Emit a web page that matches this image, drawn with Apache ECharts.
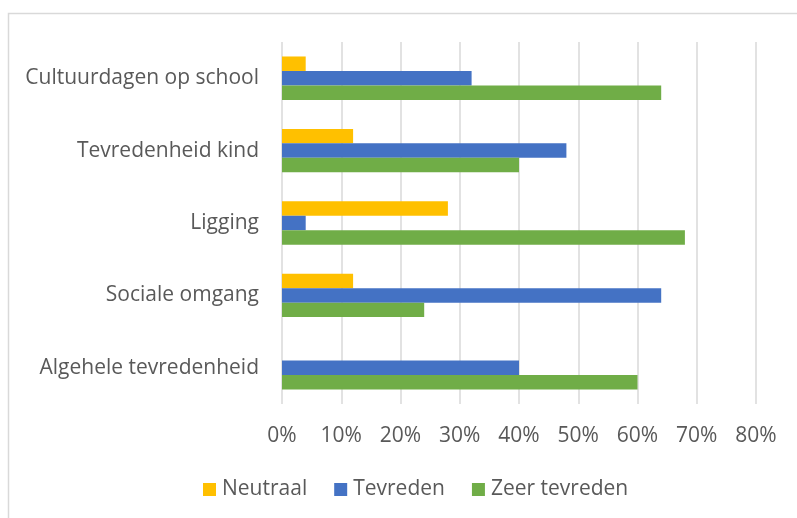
<!DOCTYPE html>
<html>
<head>
<meta charset="utf-8">
<script src="https://cdn.jsdelivr.net/npm/echarts@6/dist/echarts.min.js"></script>
<style>
  html, body { margin: 0; padding: 0; background: #fff; }
  #chart { width: 797px; height: 518px; }
</style>
</head>
<body>
<div id="chart"></div>
<script>
const categories = ['Cultuurdagen op school', 'Tevredenheid kind', 'Ligging', 'Sociale omgang', 'Algehele tevredenheid'];
const neutraal = [4, 12, 28, 12, 0];
const tevreden = [32, 48, 4, 64, 40];
const zeerTevreden = [64, 40, 68, 24, 60];

const chart = echarts.init(document.getElementById('chart'));
const textColor = '#595959';
const font = 'Open Sans';
const fontSize = 21;

const barSeries = (name, data, color) => ({
  name: name,
  type: 'bar',
  data: data,
  barGap: '0%',
  barCategoryGap: '40%',
  itemStyle: { color: color },
  emphasis: { disabled: true }
});

chart.setOption({
  animation: false,
  graphic: [{
    type: 'rect',
    shape: { x: 8.5, y: 13.5, width: 820, height: 540 },
    style: { fill: 'none', stroke: '#d9d9d9', lineWidth: 1.5 },
    silent: true
  }],
  grid: { left: 282, right: 41, top: 42, bottom: 114 },
  legend: {
    bottom: 13,
    left: 198,
    itemWidth: 13,
    itemHeight: 13,
    itemGap: 27,
    icon: 'rect',
    textStyle: { color: textColor, fontFamily: font, fontSize: fontSize, padding: [0, 0, 0, 1] },
    data: ['Neutraal', 'Tevreden', 'Zeer tevreden']
  },
  xAxis: {
    type: 'value',
    min: 0,
    max: 80,
    interval: 10,
    axisLine: { show: false },
    axisTick: { show: false },
    axisLabel: { formatter: '{value}%', color: textColor, fontFamily: font, fontSize: fontSize, margin: 22 },
    splitLine: { lineStyle: { color: '#d9d9d9', width: 1.5 } }
  },
  yAxis: {
    type: 'category',
    data: categories,
    inverse: true,
    axisLine: { show: false },
    axisTick: { show: false },
    axisLabel: { color: textColor, fontFamily: font, fontSize: fontSize, margin: 23, padding: [3, 0, 0, 0] }
  },
  series: [
    barSeries('Neutraal', neutraal, '#FFC000'),
    barSeries('Tevreden', tevreden, '#4472C4'),
    barSeries('Zeer tevreden', zeerTevreden, '#70AD47')
  ]
});
</script>
</body>
</html>
